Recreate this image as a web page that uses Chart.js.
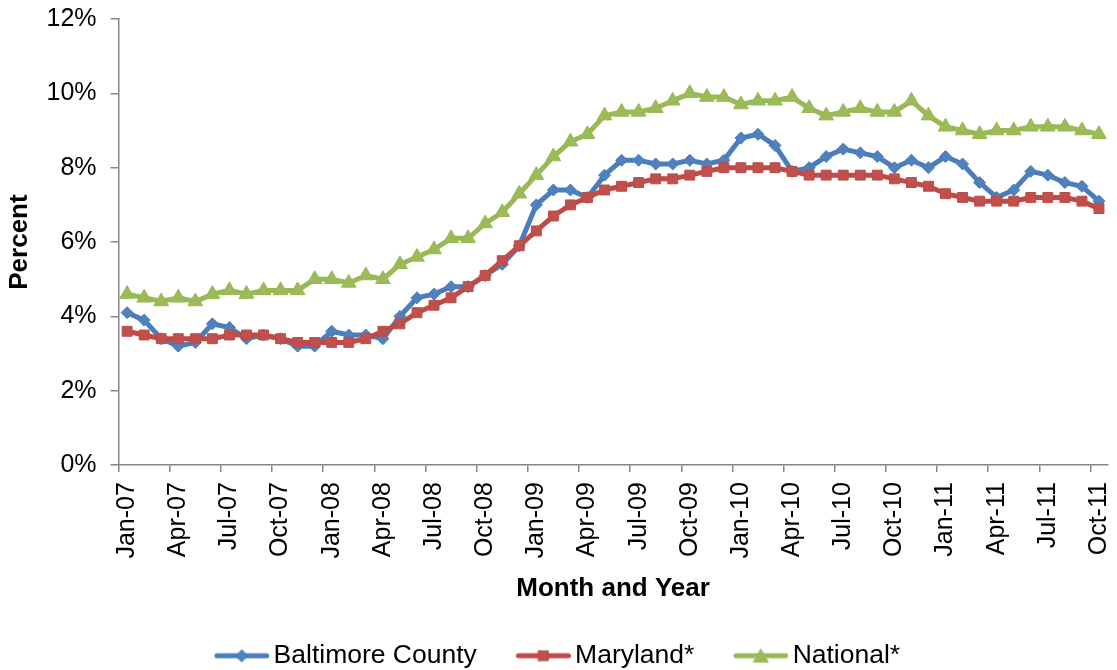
<!DOCTYPE html>
<html>
<head>
<meta charset="utf-8">
<script src="https://cdn.jsdelivr.net/npm/chart.js@4.4.1/dist/chart.umd.min.js"></script>
<style>
  html, body { margin: 0; padding: 0; background: #fff; }
  #wrap { width: 1117px; height: 670px; }
</style>
</head>
<body>
<div id="wrap"><canvas id="rateChart" width="1117" height="670"></canvas></div>
<script>
// monthly categories, Jan-07 .. Oct-11
const months = [
  "Jan-07","Feb-07","Mar-07","Apr-07","May-07","Jun-07","Jul-07","Aug-07","Sep-07","Oct-07","Nov-07","Dec-07",
  "Jan-08","Feb-08","Mar-08","Apr-08","May-08","Jun-08","Jul-08","Aug-08","Sep-08","Oct-08","Nov-08","Dec-08",
  "Jan-09","Feb-09","Mar-09","Apr-09","May-09","Jun-09","Jul-09","Aug-09","Sep-09","Oct-09","Nov-09","Dec-09",
  "Jan-10","Feb-10","Mar-10","Apr-10","May-10","Jun-10","Jul-10","Aug-10","Sep-10","Oct-10","Nov-10","Dec-10",
  "Jan-11","Feb-11","Mar-11","Apr-11","May-11","Jun-11","Jul-11","Aug-11","Sep-11","Oct-11"
];

const baltimoreCounty = [
  4.1,3.9,3.4,3.2,3.3,3.8,3.7,3.4,3.5,3.4,3.2,3.2,
  3.6,3.5,3.5,3.4,4.0,4.5,4.6,4.8,4.8,5.1,5.4,5.9,
  7.0,7.4,7.4,7.2,7.8,8.2,8.2,8.1,8.1,8.2,8.1,8.2,
  8.8,8.9,8.6,7.9,8.0,8.3,8.5,8.4,8.3,8.0,8.2,8.0,
  8.3,8.1,7.6,7.2,7.4,7.9,7.8,7.6,7.5,7.1
];

const maryland = [
  3.6,3.5,3.4,3.4,3.4,3.4,3.5,3.5,3.5,3.4,3.3,3.3,
  3.3,3.3,3.4,3.6,3.8,4.1,4.3,4.5,4.8,5.1,5.5,5.9,
  6.3,6.7,7.0,7.2,7.4,7.5,7.6,7.7,7.7,7.8,7.9,8.0,
  8.0,8.0,8.0,7.9,7.8,7.8,7.8,7.8,7.8,7.7,7.6,7.5,
  7.3,7.2,7.1,7.1,7.1,7.2,7.2,7.2,7.1,6.9
];

const national = [
  4.6,4.5,4.4,4.5,4.4,4.6,4.7,4.6,4.7,4.7,4.7,5.0,
  5.0,4.9,5.1,5.0,5.4,5.6,5.8,6.1,6.1,6.5,6.8,7.3,
  7.8,8.3,8.7,8.9,9.4,9.5,9.5,9.6,9.8,10.0,9.9,9.9,
  9.7,9.8,9.8,9.9,9.6,9.4,9.5,9.6,9.5,9.5,9.8,9.4,
  9.1,9.0,8.9,9.0,9.0,9.1,9.1,9.1,9.0,8.9
];

const percentTicks = [0, 2, 4, 6, 8, 10, 12];

const FONT = "'Liberation Sans', Arial, sans-serif";
const axisGrey = "#868686";
const seriesStyle = [
  { line: "#4A7EBB", fill: "#4F81BD", marker: "rectRot", radius: 6 },
  { line: "#BE4B48", fill: "#C0504D", marker: "rect", radius: 7 },
  { line: "#98B954", fill: "#9BBB59", marker: "triangle", radius: 8.5 }
];

// little legend picture: line with the marker in the middle (Excel style)
function makeLegendIcon(s) {
  const c = document.createElement("canvas");
  c.width = 64; c.height = 22;
  const g = c.getContext("2d");
  const cy = 11, cx = 36.5;
  g.strokeStyle = s.line; g.lineWidth = 5; g.lineCap = "round";
  g.beginPath(); g.moveTo(11.5, cy); g.lineTo(61.5, cy); g.stroke();
  g.fillStyle = s.fill; g.strokeStyle = s.line; g.lineWidth = 1;
  g.beginPath();
  const r = s.radius;
  if (s.marker === "rectRot") {
    g.moveTo(cx - r, cy); g.lineTo(cx, cy - r); g.lineTo(cx + r, cy); g.lineTo(cx, cy + r);
  } else if (s.marker === "rect") {
    const h = r * Math.SQRT1_2;
    g.rect(cx - h, cy - h, 2 * h, 2 * h);
  } else {
    for (let k = 0; k < 3; k++) {
      const a = k * 2 * Math.PI / 3;
      const px = cx + Math.sin(a) * r, py = cy + 2 - Math.cos(a) * r;
      if (k === 0) g.moveTo(px, py); else g.lineTo(px, py);
    }
  }
  g.closePath(); g.fill(); g.stroke();
  return c;
}
const legendIcons = seriesStyle.map(makeLegendIcon);

function makeDataset(label, data, s, order) {
  return {
    label: label,
    data: data,
    order: order,
    borderColor: s.line,
    backgroundColor: s.fill,
    borderWidth: 5,
    tension: 0,
    pointStyle: s.marker,
    pointRadius: s.radius,
    pointHoverRadius: s.radius,
    pointBackgroundColor: s.fill,
    pointBorderColor: s.line,
    pointBorderWidth: 1
  };
}

const ctx = document.getElementById("rateChart").getContext("2d");

new Chart(ctx, {
  type: "line",
  data: {
    labels: months,
    datasets: [
      makeDataset("Baltimore County", baltimoreCounty, seriesStyle[0], 3),
      makeDataset("Maryland*", maryland, seriesStyle[1], 2),
      makeDataset("National*", national, seriesStyle[2], 1)
    ]
  },
  options: {
    responsive: false,
    animation: false,
    devicePixelRatio: 1,
    layout: { padding: { top: 19, right: 2.5, bottom: -9, left: 0 } },
    plugins: {
      tooltip: { enabled: false },
      legend: {
        position: "bottom",
        labels: {
          usePointStyle: true,
          pointStyleWidth: 46,
          padding: 39,
          color: "#000",
          font: { family: FONT, size: 26.5 },
          generateLabels: chart => chart.data.datasets.map((ds, i) => ({
            text: ds.label,
            pointStyle: legendIcons[i],
            fillStyle: ds.backgroundColor,
            strokeStyle: ds.borderColor,
            lineWidth: 0,
            fontColor: "#000",
            hidden: !chart.isDatasetVisible(i),
            datasetIndex: i
          }))
        }
      }
    },
    scales: {
      x: {
        type: "category",
        offset: true,
        grid: {
          offset: true,
          drawOnChartArea: false,
          tickLength: 7,
          lineWidth: 1.5,
          color: c => (c.index % 3 === 0 ? axisGrey : "rgba(0,0,0,0)")
        },
        border: { color: axisGrey, width: 1.5 },
        ticks: {
          autoSkip: false,
          minRotation: 90,
          maxRotation: 90,
          padding: 10,
          color: "#000",
          font: { family: FONT, size: 25 },
          callback: function (val, index) {
            return index % 3 === 0 ? this.getLabelForValue(val) : "";
          }
        },
        title: {
          display: true,
          text: "Month and Year",
          color: "#000",
          font: { family: FONT, size: 26, weight: "bold", lineHeight: 1 },
          padding: { top: 0, bottom: 2 }
        },
        afterFit: scale => {
          scale.height = 138.4;
          scale.paddingLeft = 0;
          scale.paddingRight = 0;
        }
      },
      y: {
        min: 0,
        max: 12,
        afterBuildTicks: scale => { scale.ticks = percentTicks.map(v => ({ value: v })); },
        grid: { drawOnChartArea: false, tickLength: 8, lineWidth: 1.5, color: axisGrey },
        border: { color: axisGrey, width: 1.5 },
        ticks: {
          padding: 14,
          color: "#000",
          font: { family: FONT, size: 25 },
          callback: v => v + "%"
        },
        title: {
          display: true,
          text: "Percent",
          color: "#000",
          font: { family: FONT, size: 26, weight: "bold", lineHeight: 1 },
          padding: { top: 7, bottom: 0 }
        },
        afterFit: scale => {
          scale.width = 118.6;
          scale.paddingTop = 0;
          scale.paddingBottom = 0;
        }
      }
    }
  }
});
</script>
</body>
</html>
